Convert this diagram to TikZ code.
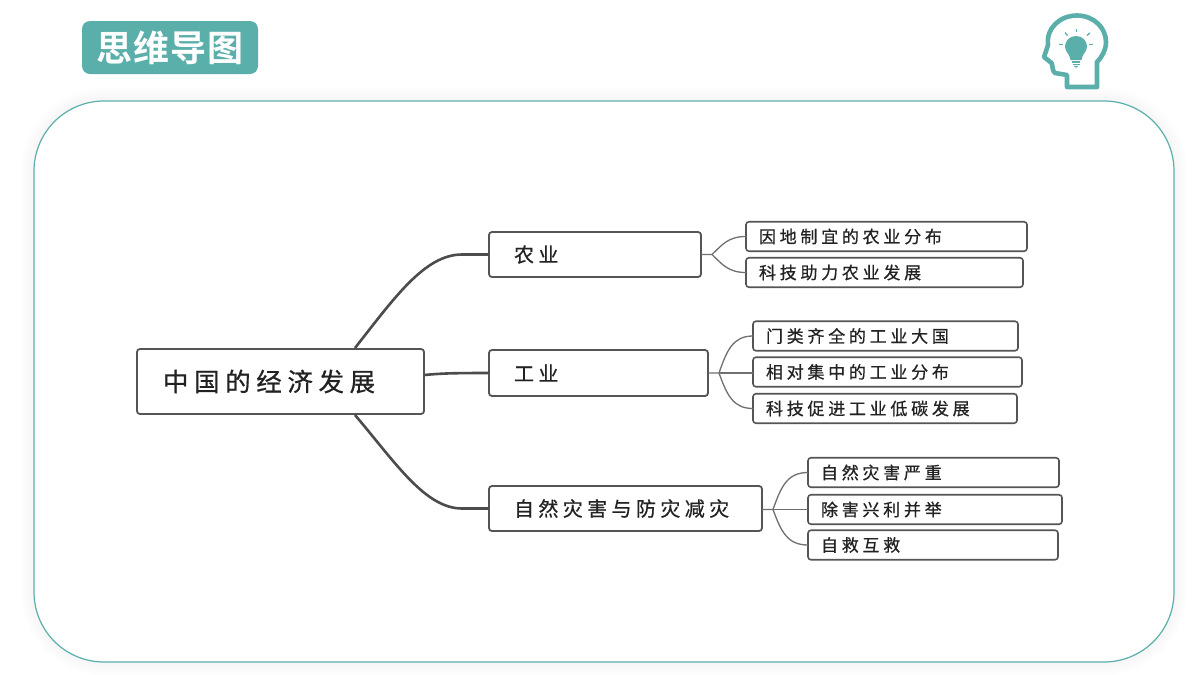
\documentclass[tikz,border=0pt]{standalone}
\usepackage{fontspec}
\newfontfamily\cjk[LetterSpace=22,FakeBold=0.6]{Noto Sans CJK SC}
\newfontfamily\cjktitle[LetterSpace=3]{Noto Sans CJK SC Bold}
\definecolor{teal1}{HTML}{5BAFAA}
\definecolor{boxline}{HTML}{555555}
\definecolor{inktext}{HTML}{222222}
\definecolor{thinline}{HTML}{707070}
\tikzset{
  x=1pt,y=-1pt,
  mmbox/.style={draw=boxline,line width=1.8pt,rounded corners=3pt,fill=white,anchor=west,align=left,text=inktext,font=\cjk,outer sep=0pt},
  rootbox/.style={mmbox,font=\cjk\fontsize{25.5}{30}\selectfont,inner xsep=26pt,inner ysep=0pt,minimum height=65pt,text width=235pt},
  midbox/.style={mmbox,font=\cjk\fontsize{20}{24}\selectfont,inner xsep=25pt,inner ysep=0pt,minimum height=45pt},
  leafbox/.style={mmbox,line width=1.6pt,font=\cjk\fontsize{17}{20}\selectfont,inner xsep=13pt,inner ysep=0pt,minimum height=29.5pt},
  thick branch/.style={draw=boxline!90!black,line width=2.6pt},
  thin branch/.style={draw=thinline,line width=1.3pt},
  icon/.style={draw=teal1,line width=4.6pt,line join=round},
  ray/.style={draw=teal1,line width=1.3pt}
}
\begin{document}
\begin{tikzpicture}
\useasboundingbox (0,0) rectangle (1200,675);
\fill[white] (0,0) rectangle (1200,675);
% soft glow round the frame
\foreach \w in {26,20,14,8}{
  \draw[black,opacity=0.006,line width=\w pt,rounded corners=70pt] (34,101) rectangle (1174,662);
}
% frame
\draw[teal1,line width=1.2pt,fill=white,rounded corners=70pt] (34,101) rectangle (1174,662);
% title badge
\node[fill=teal1,rounded corners=8pt,minimum width=176pt,minimum height=53pt,inner sep=0pt,text=white,font=\cjktitle\fontsize{36}{40}\selectfont] (title) at (170,47.5) {思维导图};
% head icon
\draw[icon] (1097,87) -- (1067,87) -- (1067,75) -- (1055,73) .. controls (1052,71) and (1053,66) .. (1051.5,63)
  -- (1044,57) -- (1048,45) .. controls (1046,28) and (1060,15.5) .. (1077,15.5)
  .. controls (1094,15.5) and (1106,28) .. (1106,42) .. controls (1106,50) and (1102,57) .. (1097,62) -- cycle;
\fill[teal1] (1076,36) .. controls (1082.5,36) and (1087,41) .. (1087,46.5) .. controls (1087,52) and (1082,54) .. (1081.5,60)
  -- (1070.5,60) .. controls (1070,54) and (1065,52) .. (1065,46.5) .. controls (1065,41) and (1069.5,36) .. (1076,36) -- cycle;
\fill[teal1] (1072,61) rectangle (1080,62.6);
\fill[teal1] (1072.5,63.6) rectangle (1079.5,65);
\fill[teal1] (1073.5,65.8) -- (1078.5,65.8) -- (1076,67.8) -- cycle;
\draw[ray] (1059,44.7) -- (1063,44.7);
\draw[ray] (1089,44.7) -- (1093,44.7);
\draw[ray] (1065,32.5) -- (1067.5,35.5);
\draw[ray] (1076.5,28.5) -- (1076.5,32);
\draw[ray] (1090,33) -- (1087,35.5);
% nodes
\node[rootbox] (root) at (137,381.5) {中国的经济发展};
\node[midbox,text width=162pt] (n1) at (489,254.5) {农业};
\node[midbox,text width=169pt,minimum height=46pt] (n2) at (489,373) {工业};
\node[midbox,text width=223pt] (n3) at (489,508.5) {自然灾害与防灾减灾};
\node[leafbox,text width=255pt] (a1) at (746,236.5) {因地制宜的农业分布};
\node[leafbox,text width=251pt] (a2) at (746,272.5) {科技助力农业发展};
\node[leafbox,text width=239pt] (b1) at (753,336) {门类齐全的工业大国};
\node[leafbox,text width=243pt] (b2) at (753,372) {相对集中的工业分布};
\node[leafbox,text width=238pt] (b3) at (753,408.5) {科技促进工业低碳发展};
\node[leafbox,text width=225pt] (c1) at (808,472.5) {自然灾害严重};
\node[leafbox,text width=228pt] (c2) at (808,509.5) {除害兴利并举};
\node[leafbox,text width=224pt] (c3) at (808,545) {自救互救};
% junctions
\coordinate (rt) at (355,348);
\coordinate (rm) at (424.5,375);
\coordinate (rb) at (355,415);
\coordinate (j1) at (712,254.5);
\coordinate (j2) at (719,373);
\coordinate (j3) at (773,509.5);
% thick branches
\draw[thick branch] (rt) .. controls (395,297) and (425,254.5) .. (462,254.5) -- (n1.west);
\draw[thick branch] (rm) .. controls (440,373.5) and (450,373) .. (n2.west);
\draw[thick branch] (rb) .. controls (395,462) and (425,508.5) .. (462,508.5) -- (n3.west);
% thin branches
\draw[thin branch] (n1.east) -- (j1) .. controls (722,245) and (728,236.5) .. (a1.west);
\draw[thin branch] (j1) .. controls (722,264) and (728,272.5) .. (a2.west);
\draw[thin branch] (n2.east) -- (j2) .. controls (727,350) and (733,336) .. (b1.west);
\draw[thin branch] (j2) -- (j2 -| b2.west);
\draw[thin branch] (j2) .. controls (727,395) and (733,408.5) .. (b3.west);
\draw[thin branch] (n3.east |- j3) -- (j3) .. controls (781,487) and (787,472.5) .. (c1.west);
\draw[thin branch] (j3) -- (c2.west);
\draw[thin branch] (j3) .. controls (781,531) and (787,545) .. (c3.west);
\end{tikzpicture}
\end{document}
